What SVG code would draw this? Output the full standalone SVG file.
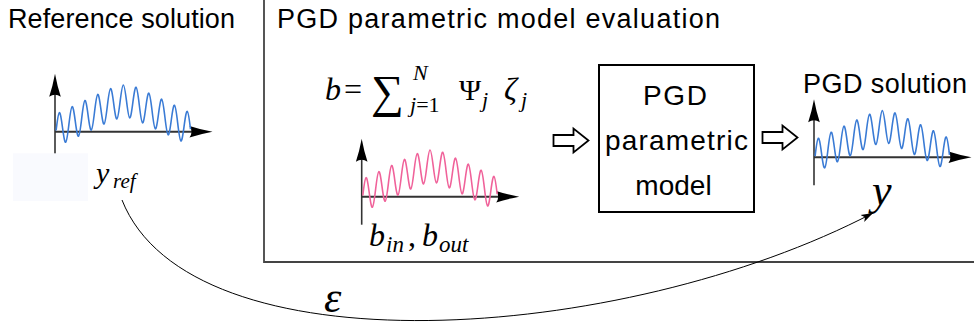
<svg xmlns="http://www.w3.org/2000/svg" xmlns:xlink="http://www.w3.org/1999/xlink" width="974" height="325" viewBox="0 0 974 325">
<style>
.t{font-family:"Liberation Sans",Arial,sans-serif;font-size:27px;fill:#000}
.bx{font-size:28px}
.m{font-family:"Liberation Serif","DejaVu Serif",serif;fill:#000}
.i{font-style:italic}
.ax{stroke:#333;fill:none}
.wave{fill:none;stroke-width:1.6;stroke-linejoin:round}
.blk{fill:#fff;stroke:#000;stroke-width:1.8;stroke-linejoin:miter}
</style>
<defs>
<path id="axhead" d="M0,0 Q-12,-2.2 -23,-5.8 Q-19,0 -23,5.8 Q-12,2.2 0,0 Z" fill="#000"/>
<g id="axes">
<line class="ax" x1="0" y1="28" x2="0" y2="-40" stroke-width="1.6"/>
<use xlink:href="#axhead" transform="translate(0,-58) rotate(-90)"/>
<line class="ax" x1="0" y1="0" x2="140" y2="0" stroke-width="2"/>
<use xlink:href="#axhead" transform="translate(157.5,0)"/>
</g>
<path id="wave" d="M1.1,-1.2 C3.82,-24.2 4.78,-24.7 7.5,-4.2 C10.22,16.2 11.18,15.8 13.9,-7.25 C16.62,-30.3 17.58,-30.7 20.3,-10.3 C23.02,10.1 23.98,9.7 26.7,-13.35 C29.42,-36.4 30.38,-36.8 33.1,-16.4 C35.82,4 36.78,3.6 39.5,-19.45 C42.22,-42.5 43.18,-42.9 45.9,-22.5 C48.62,-2 49.58,-2.5 52.3,-25.45 C55.02,-48.3 55.98,-48.7 58.7,-28.1 C61.42,-7.2 62.38,-7.5 65.1,-30 C67.82,-52.1 68.78,-52.2 71.5,-30.75 C74.22,-8.5 75.18,-8.3 77.9,-29.5 C80.62,-50 81.58,-49.6 84.3,-26.7 C87.02,-3.7 87.98,-3.2 90.7,-23.7 C93.42,-44.2 94.38,-43.7 97.1,-20.7 C99.82,2.3 100.78,2.8 103.5,-17.7 C106.22,-38.2 107.18,-37.7 109.9,-14.7 C112.62,8.3 113.58,8.8 116.3,-11.7 C119.02,-32.1 119.98,-31.7 122.7,-8.65 C125.42,14.4 126.38,14.9 129.1,-5.55 C131.82,-26 132.78,-25.5 135.5,-2.5"/>
<path id="blockarrow" d="M0,-5.5 L20,-5.5 L20,-12 L35,0 L20,12 L20,5.5 L0,5.5 Z"/>
<marker id="tip" viewBox="0 0 12 10" refX="12" refY="5" markerWidth="12" markerHeight="10" markerUnits="userSpaceOnUse" orient="auto">
<path d="M0,1 L12,5 L0,9 L3,5 Z" fill="#000"/>
</marker>
</defs>

<g id="pgd-eval-frame">
<path d="M264,0 L264,262 L974,262" fill="none" stroke="#444" stroke-width="1.8"/>
<text class="t" x="277" y="28" textLength="443" lengthAdjust="spacing">PGD parametric model evaluation</text>
</g>

<g id="reference-solution">
<text class="t" x="8" y="28" textLength="227" lengthAdjust="spacing">Reference solution</text>
<use xlink:href="#axes" transform="translate(55,131.7)"/>
<use xlink:href="#wave" class="wave" stroke="#3a7bd5" transform="translate(55,131.7)"/>
<rect x="13" y="153.3" width="75" height="47.7" fill="#f9fafe"/>
<text class="m i" x="96" y="183" font-size="30">y<tspan x="113" y="188" font-size="21">ref</tspan></text>
</g>

<g id="formula">
<text class="m" font-size="32"><tspan class="i" x="325" y="100">b</tspan><tspan x="344" y="100">=</tspan><tspan x="371" y="107" font-size="46">∑</tspan><tspan class="i" x="413" y="80" font-size="22">N</tspan><tspan class="i" x="410" y="112" font-size="22">j</tspan><tspan y="112" font-size="22">=1</tspan><tspan x="459" y="100" font-size="30">Ψ</tspan><tspan class="i" x="482" y="107" font-size="22">j</tspan><tspan class="i" x="504" y="100">ζ</tspan><tspan class="i" x="521" y="107" font-size="22">j</tspan></text>
</g>

<g id="input-plot">
<use xlink:href="#axes" transform="translate(361.7,196.7)"/>
<use xlink:href="#wave" class="wave" stroke="#f0629a" transform="translate(361.7,196.7)"/>
<text class="m i" font-size="32"><tspan x="369" y="246">b</tspan><tspan x="386" y="252" font-size="23">in</tspan><tspan x="408" y="246" font-style="normal">,</tspan><tspan x="422" y="246">b</tspan><tspan x="439" y="252" font-size="23">out</tspan></text>
</g>

<g id="arrow-in">
<use xlink:href="#blockarrow" class="blk" transform="translate(553.5,140.5)"/>
</g>

<g id="pgd-model">
<rect x="599" y="65" width="155" height="147" fill="#fff" stroke="#000" stroke-width="2"/>
<text class="t bx" x="675" y="105" text-anchor="middle" textLength="64" lengthAdjust="spacing">PGD</text>
<text class="t bx" x="676.5" y="150" text-anchor="middle" textLength="143" lengthAdjust="spacing">parametric</text>
<text class="t bx" x="673.5" y="195" text-anchor="middle">model</text>
</g>

<g id="arrow-out">
<use xlink:href="#blockarrow" class="blk" transform="translate(762.5,137.5)"/>
</g>

<g id="pgd-solution">
<text class="t" x="803" y="93" textLength="164" lengthAdjust="spacing">PGD solution</text>
<use xlink:href="#axes" transform="translate(814,157.3)"/>
<use xlink:href="#wave" class="wave" stroke="#3a7bd5" transform="translate(814,157.3)"/>
<text class="m i" x="872" y="205" font-size="44">y</text>
</g>

<g id="connectors">
<path d="M122,200 C190,372 620,345 873,213" fill="none" stroke="#000" stroke-width="1" marker-end="url(#tip)"/>
<text class="m i" x="324" y="312" font-size="44">ε</text>
</g>
</svg>
